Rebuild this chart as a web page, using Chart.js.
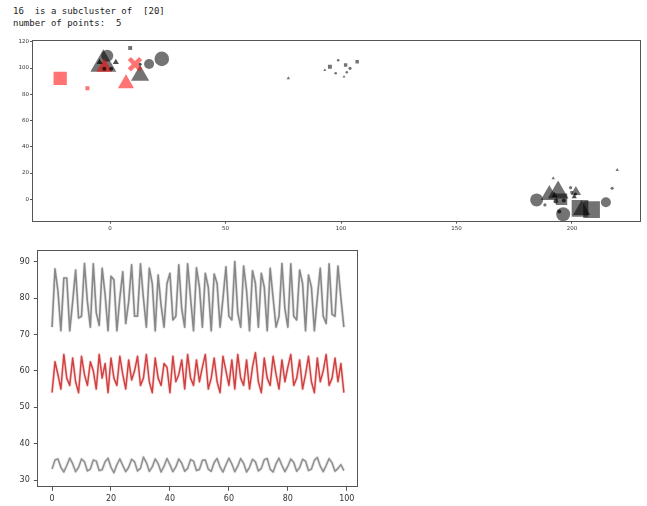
<!DOCTYPE html>
<html>
<head>
<meta charset="utf-8">
<script src="https://cdn.jsdelivr.net/npm/chart.js@4.4.0/dist/chart.umd.min.js"></script>
<style>
  body { margin: 0; background: #fff; width: 647px; height: 506px; position: relative; overflow: hidden; }
  pre#info { position: absolute; left: 13px; top: 4.6px; margin: 0; font: 9px/12.6px "DejaVu Sans Mono", monospace; color: #222; }
  #scatter { position: absolute; left: 0; top: 35px; }
  #series { position: absolute; left: 0; top: 240px; }
</style>
</head>
<body>
<pre id="info">16  is a subcluster of  [20]
number of points:  5</pre>
<canvas id="scatter" width="647" height="200"></canvas>
<canvas id="series" width="370" height="266"></canvas>
<script>
// ---- scatter: cluster members (x, y, marker size) ----
var grayCircleX = [-1.2, 16.9, 22.4, 98.8, 97.7, 103.9, 102.5, 217.4, 184.7, 214.7, 196.2, 199.4, 188.3];
var grayCircleY = [109.4, 103.1, 107, 106, 96, 99.8, 96.8, 8.4, -0.5, -2.3, -11.4, 8.8, -4.3];
var grayCircleS = [6, 5, 7.3, 1.3, 1.3, 1.6, 1.3, 1.6, 6.5, 5, 7, 1.6, 1.6];

var grayTriX = [-2.9, 13, 77.2, 93, 101.3, 219.6, 194, 190.2, 201.7, 204.2, 191.9];
var grayTriY = [102.9, 94.3, 92.2, 98.5, 93.4, 22.3, 5.1, 3.3, 5.6, -8.2, 16];
var grayTriS = [15, 10.5, 2, 1.7, 1.7, 2, 12, 10, 6, 10, 2];

var graySqX = [8.7, 95.2, 102, 107, 203.5, 208.5, 195.5, 199.9];
var graySqY = [115.3, 101, 102.3, 104.8, -6.9, -7.9, 0, 5.3];
var graySqS = [2.8, 2.8, 2.4, 2.4, 11.8, 11.8, 8, 2];

var darkCircleX = [-2.5, 0.5, 13, 193, 196.5, 194.5, 201.5];
var darkCircleY = [99.5, 99.5, 103, -1.5, -1, -9.4, 4];
var darkCircleS = [2, 2, 1.5, 2.2, 2, 2, 1.5];

var darkTriX = [-4.5, 2.5, 192.5, 201];
var darkTriY = [104.5, 104.5, 3, 2];
var darkTriS = [3.5, 3.5, 3.5, 3];

var redSqX = [-21.6, -9.8];
var redSqY = [92.2, 84.6];
var redSqS = [9.4, 2.8];

var redTriX = [-2.5, 6.9];
var redTriY = [100.6, 88.2];
var redTriS = [9, 9.3];

var redXX = [10.8];
var redXY = [103];
var redXS = [8];

var scatterXTicks = [0, 50, 100, 150, 200];
var scatterYTicks = [0, 20, 40, 60, 80, 100, 120];

// ---- time series (100 steps) ----
var upperSeries = [72, 88, 82, 71, 85.5, 85.5, 71, 79, 87.7, 74.5,
  75, 89.5, 79, 72, 89.4, 76, 72.5, 88.2, 81, 71,
  86, 85, 71, 80, 87.2, 73, 79, 89.1, 75, 75,
  89.4, 80, 72, 88.2, 84, 71, 86.3, 78, 72, 84,
  86.8, 74, 75, 89.1, 77, 72, 89.4, 80, 71, 88.3,
  83, 72, 86.8, 83, 71, 86.6, 84, 72, 80, 88.6,
  75, 74, 90, 76, 72, 88.8, 82, 71, 87.5, 84,
  72, 86.8, 83, 71, 88.2, 80, 72, 75, 89.5, 77,
  72, 89.4, 75, 74, 87.7, 84, 71, 86.3, 83, 71,
  80, 88.2, 75, 73, 89.4, 75.5, 75, 88.8, 80, 72];

var middleSeries = [54, 62.5, 59, 55, 64.5, 58, 56, 63.5, 57, 54,
  64, 59, 56, 62.5, 60, 55, 64.5, 58, 62, 54,
  63.5, 58, 56, 64, 59, 55, 63, 57.5, 60, 64,
  56, 58, 64.5, 57, 54, 63.5, 58, 56, 62, 61,
  54, 64, 57, 59, 63, 55, 64.5, 58, 56, 63,
  57, 61, 64.5, 55, 58, 63.5, 57, 54, 64, 60,
  56, 63, 55, 64.5, 58, 56, 63, 55, 61, 65,
  57, 54, 63.5, 58, 56, 64, 59, 55, 63, 57,
  61, 64.5, 56, 58, 63, 55, 59, 64, 57, 54,
  63.5, 57, 60, 64.5, 56, 58, 63.5, 57, 62, 54];

var lowerSeries = [33, 35.5, 35.8, 33.5, 32.2, 34, 36, 34.5, 32.3, 33.5,
  35.8, 35, 32.5, 33, 35.5, 35.2, 32.6, 32.8, 35, 36,
  33.5, 32, 34.2, 35.8, 34, 32.3, 33.5, 35.7, 35, 32.5,
  33.2, 36.3, 34.8, 32.4, 33.6, 35.8, 34.5, 32.2, 33.8, 35.9,
  34.2, 32.3, 33.6, 35.8, 34.6, 32.4, 33.2, 35.6, 35.2, 32.6,
  32.9, 35.4, 35.5, 33, 32.4, 34.8, 35.9, 33.6, 32.2, 34.2,
  36, 34.4, 32.3, 33.8, 35.9, 34.6, 32.2, 33.5, 35.7, 35,
  32.5, 33.2, 35.6, 35.9, 33, 32.2, 34.5, 36, 34, 32.3,
  33.8, 35.8, 34.8, 32.4, 33.4, 35.7, 35.2, 32.6, 33, 35.4,
  36.2, 33.8, 32.3, 34, 35.9, 34.7, 32.4, 33.2, 34.2, 32.6];

var seriesXTicks = [0, 20, 40, 60, 80, 100];
var seriesYTicks = [30, 40, 50, 60, 70, 80, 90];

var GRAY = "rgba(0, 0, 0, 0.55)";
var DARK = "rgba(0, 0, 0, 0.7)";
var RED = "rgba(255, 0, 0, 0.55)";

function pts(xs, ys) {
    return xs.map(function (x, i) { return {x: x, y: ys[i]}; });
}

function markers(xs, ys, sizes, style, color) {
    return {
        data: pts(xs, ys),
        pointStyle: style,
        pointRadius: sizes,
        pointHoverRadius: sizes,
        backgroundColor: color,
        borderColor: color,
        borderWidth: 0
    };
}

// box around the plot area, like matplotlib spines
var framePlugin = {
    id: "frame",
    afterDraw: function (chart) {
        var a = chart.chartArea, ctx = chart.ctx;
        ctx.save();
        ctx.strokeStyle = "#555";
        ctx.lineWidth = 1;
        ctx.strokeRect(Math.round(a.left) + 0.5, Math.round(a.top) + 0.5,
            Math.round(a.right - a.left) - 1, Math.round(a.bottom - a.top) - 1);
        ctx.restore();
    }
};

function axis(min, max, ticks, fontSize, tickLen, pad, fitSize, horizontal) {
    return {
        type: "linear",
        min: min,
        max: max,
        afterBuildTicks: function (s) { s.ticks = ticks.map(function (v) { return {value: v}; }); },
        afterFit: function (s) { if (horizontal) { s.height = fitSize; } else { s.width = fitSize; } },
        border: {display: false},
        grid: {display: true, drawOnChartArea: false, drawTicks: true, tickLength: tickLen, color: "#555"},
        ticks: {
            font: {family: "DejaVu Sans", size: fontSize},
            color: "#333",
            padding: pad,
            maxRotation: 0,
            autoSkip: false
        }
    };
}

var xDark = markers(darkCircleX, darkCircleY, darkCircleS, "circle", DARK);
var xDarkTri = markers(darkTriX, darkTriY, darkTriS, "triangle", DARK);
var xRedX = markers(redXX, redXY, redXS, "crossRot", RED);
xRedX.borderWidth = 4.5;

new Chart(document.getElementById("scatter"), {
    type: "scatter",
    data: {
        datasets: [
            xDark,
            xDarkTri,
            markers(redSqX, redSqY, redSqS, "rect", RED),
            markers(redTriX, redTriY, redTriS, "triangle", RED),
            xRedX,
            markers(grayCircleX, grayCircleY, grayCircleS, "circle", GRAY),
            markers(grayTriX, grayTriY, grayTriS, "triangle", GRAY),
            markers(graySqX, graySqY, graySqS, "rect", GRAY)
        ]
    },
    options: {
        responsive: false,
        animation: false,
        devicePixelRatio: 1,
        layout: {autoPadding: false, padding: {top: 5, right: 6, left: 0, bottom: 0}},
        plugins: {legend: {display: false}, tooltip: {enabled: false}},
        scales: {
            x: axis(-33.8, 229.9, scatterXTicks, 5.5, 2, 2, 13.3, true),
            y: axis(-17.1, 121.4, scatterYTicks, 5.5, 2, 1, 32, false)
        }
    },
    plugins: [framePlugin]
});

function line(values, color, width) {
    return {
        data: values.map(function (v, i) { return {x: i, y: v}; }),
        borderColor: color,
        borderWidth: width,
        borderJoinStyle: "round",
        pointRadius: 0,
        tension: 0,
        fill: false
    };
}

new Chart(document.getElementById("series"), {
    type: "line",
    data: {
        datasets: [
            line(upperSeries, "rgba(95, 95, 95, 0.7)", 1.6),
            line(upperSeries, "rgba(95, 95, 95, 0.15)", 3.2),
            line(middleSeries, "rgba(200, 25, 25, 0.8)", 1.5),
            line(middleSeries, "rgba(200, 25, 25, 0.15)", 3.2),
            line(lowerSeries, "rgba(95, 95, 95, 0.65)", 1.5),
            line(lowerSeries, "rgba(95, 95, 95, 0.15)", 3.2)
        ]
    },
    options: {
        responsive: false,
        animation: false,
        devicePixelRatio: 1,
        layout: {autoPadding: false, padding: {top: 10, right: 11.7, left: 0, bottom: 0}},
        plugins: {legend: {display: false}, tooltip: {enabled: false}},
        scales: {
            x: axis(-5, 103.9, seriesXTicks, 8, 3.5, 3.5, 18.7, true),
            y: axis(28, 93.2, seriesYTicks, 8, 3.5, 4, 37.3, false)
        }
    },
    plugins: [framePlugin]
});
</script>
</body>
</html>
